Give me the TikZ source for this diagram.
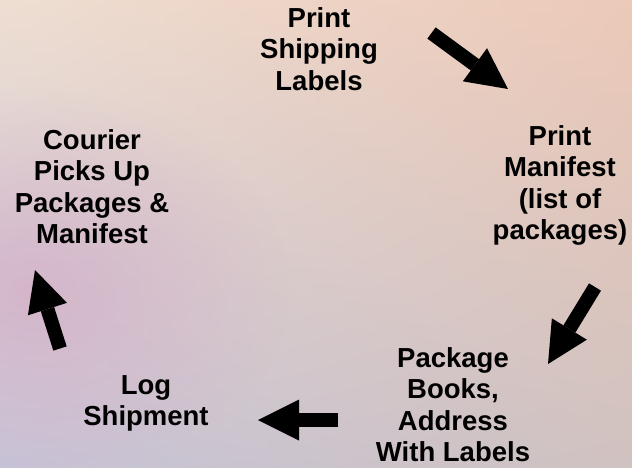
\documentclass[tikz,border=0pt]{standalone}
\usepackage{fontspec}
\setmainfont{Liberation Sans}
\usetikzlibrary{arrows.meta, shadings, fadings}
\definecolor{bgul}{RGB}{238,222,210}
\definecolor{bgur}{RGB}{236,201,184}
\definecolor{bgll}{RGB}{198,196,216}
\definecolor{bglr}{RGB}{208,194,192}
\definecolor{bgpink}{RGB}{212,176,200}
\tikzfading[name=softblob, inner color=transparent!0, outer color=transparent!100]

\begin{document}
\begin{tikzpicture}[x=1pt, y=-1pt,
  steptext/.style={align=center, inner sep=0pt, anchor=north, font=\fontsize{27.5}{31.5}\selectfont\bfseries},
  bigarrow/.style={line width=14pt, -{Triangle[length=41pt, width=41pt, line width=0pt]}}]
  % Background
  \useasboundingbox (0,0) rectangle (632,467);
  \shade[upper left=bgul, upper right=bgur, lower left=bgll, lower right=bglr] (0,0) rectangle (632,467);
  \fill[bgpink, opacity=0.8, path fading=softblob] (30,290) ellipse (260 and 200);

  % Steps
  \node[steptext] (ship) at (319, 7.3) {Print\\Shipping\\Labels};
  \node[steptext] (manifest) at (560, 125.3) {Print\\Manifest\\(list of\\packages)};
  \node[steptext] (pack) at (453, 347.3) {Package\\Books,\\Address\\With Labels};
  \node[steptext] (logship) at (146, 375.3) {Log\\Shipment};
  \node[steptext] (courier) at (92, 129.3) {Courier\\Picks Up\\Packages \&\\Manifest};

  % Arrows
  \coordinate (t1) at (431.5, 33);  \coordinate (h1) at (508, 89);
  \coordinate (t2) at (595, 287);   \coordinate (h2) at (548, 364);
  \coordinate (t3) at (338, 420);   \coordinate (h3) at (258, 420);
  \coordinate (t4) at (60, 348.5);  \coordinate (h4) at (35, 270);
  \draw[bigarrow] (t1) -- (h1);
  \draw[bigarrow] (t2) -- (h2);
  \draw[bigarrow] (t3) -- (h3);
  \draw[bigarrow] (t4) -- (h4);
\end{tikzpicture}
\end{document}
